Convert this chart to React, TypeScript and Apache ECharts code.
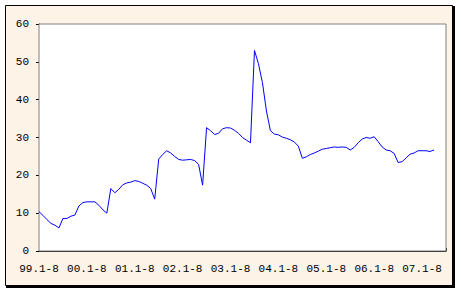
import React, { useEffect, useRef } from "react";
import * as echarts from "echarts";

const years = ["99", "00", "01", "02", "03", "04", "05", "06", "07"];
const tickLabels = ["99.1-8", "00.1-8", "01.1-8", "02.1-8", "03.1-8", "04.1-8", "05.1-8", "06.1-8", "07.1-8"];
const monthsShown = 103;

const values = [
  10.4, 9.4, 8.3, 7.3, 6.8, 6.1, 8.6, 8.6, 9.2, 9.5, 11.9, 12.8,
  13.0, 13.0, 13.0, 12.1, 10.9, 10.0, 16.5, 15.4, 16.3, 17.5, 18.0, 18.2,
  18.6, 18.4, 17.9, 17.4, 16.5, 13.7, 24.3, 25.5, 26.5, 25.9, 25.0, 24.2,
  24.0, 24.1, 24.2, 23.9, 22.9, 17.4, 32.6, 31.8, 30.8, 31.1, 32.3, 32.6,
  32.5, 31.9, 31.1, 30.0, 29.3, 28.6, 53.0, 49.5, 44.5, 37.0, 31.8, 30.9,
  30.7, 30.1, 29.8, 29.4, 28.8, 27.7, 24.5, 24.9, 25.5, 25.9, 26.4, 26.9,
  27.1, 27.3, 27.5, 27.4, 27.5, 27.4, 26.7, 27.4, 28.6, 29.6, 30.0, 29.8,
  30.2, 28.9, 27.5, 26.7, 26.5, 25.8, 23.4, 23.6, 24.6, 25.6, 25.9, 26.5,
  26.5, 26.5, 26.3, 26.7,
];

const categories: string[] = [];
years.forEach((y) => {
  for (let m = 1; m <= 12; m++) {
    if (categories.length < monthsShown) categories.push(`${y}.${m}`);
  }
});

export default function App() {
  const ref = useRef<HTMLDivElement>(null);
  useEffect(() => {
    document.body.style.margin = "0";
    const chart = echarts.init(ref.current!, null, { renderer: "svg" });
    const font = "'Liberation Mono', monospace";
    chart.setOption({
      animation: false,
      graphic: [
        { type: "rect", z: -20, silent: true, shape: { x: 6, y: 6, width: 449, height: 282 }, style: { fill: "#000" } },
        { type: "rect", z: -10, silent: true, shape: { x: 5.5, y: 5.5, width: 447, height: 280 }, style: { fill: "#FDF3E7", stroke: "#000", lineWidth: 1 } },
      ],
      grid: {
        left: 39,
        top: 24,
        width: 407,
        height: 227,
        show: true,
        backgroundColor: "#fff",
        borderColor: "#808080",
        borderWidth: 1,
        z: 1,
      },
      xAxis: {
        type: "category",
        data: categories,
        boundaryGap: false,
        axisLine: { lineStyle: { color: "#000", width: 1 } },
        axisTick: { show: true, inside: true, length: 3, interval: 0, lineStyle: { color: "#000" } },
        axisLabel: {
          interval: 11,
          margin: 12,
          color: "#000",
          fontFamily: font,
          fontSize: 11,
          formatter: (_v: string, i: number) => (i % 12 === 0 ? tickLabels[i / 12] : ""),
        },
        splitLine: { show: false },
      },
      yAxis: {
        type: "value",
        min: 0,
        max: 60,
        interval: 10,
        axisLine: { show: true, lineStyle: { color: "#000", width: 1 } },
        axisTick: { show: true, length: 3, lineStyle: { color: "#000" } },
        axisLabel: { margin: 10, color: "#000", fontFamily: font, fontSize: 11 },
        splitLine: { show: true, lineStyle: { color: "#6e6e6e", type: [3, 3], width: 1 } },
      },
      series: [
        {
          type: "line",
          data: values,
          showSymbol: false,
          symbol: "none",
          lineStyle: { color: "#0000FF", width: 1 },
          z: 3,
        },
      ],
    });
    return () => chart.dispose();
  }, []);
  return <div ref={ref} style={{ width: 461, height: 293 }} />;
}
